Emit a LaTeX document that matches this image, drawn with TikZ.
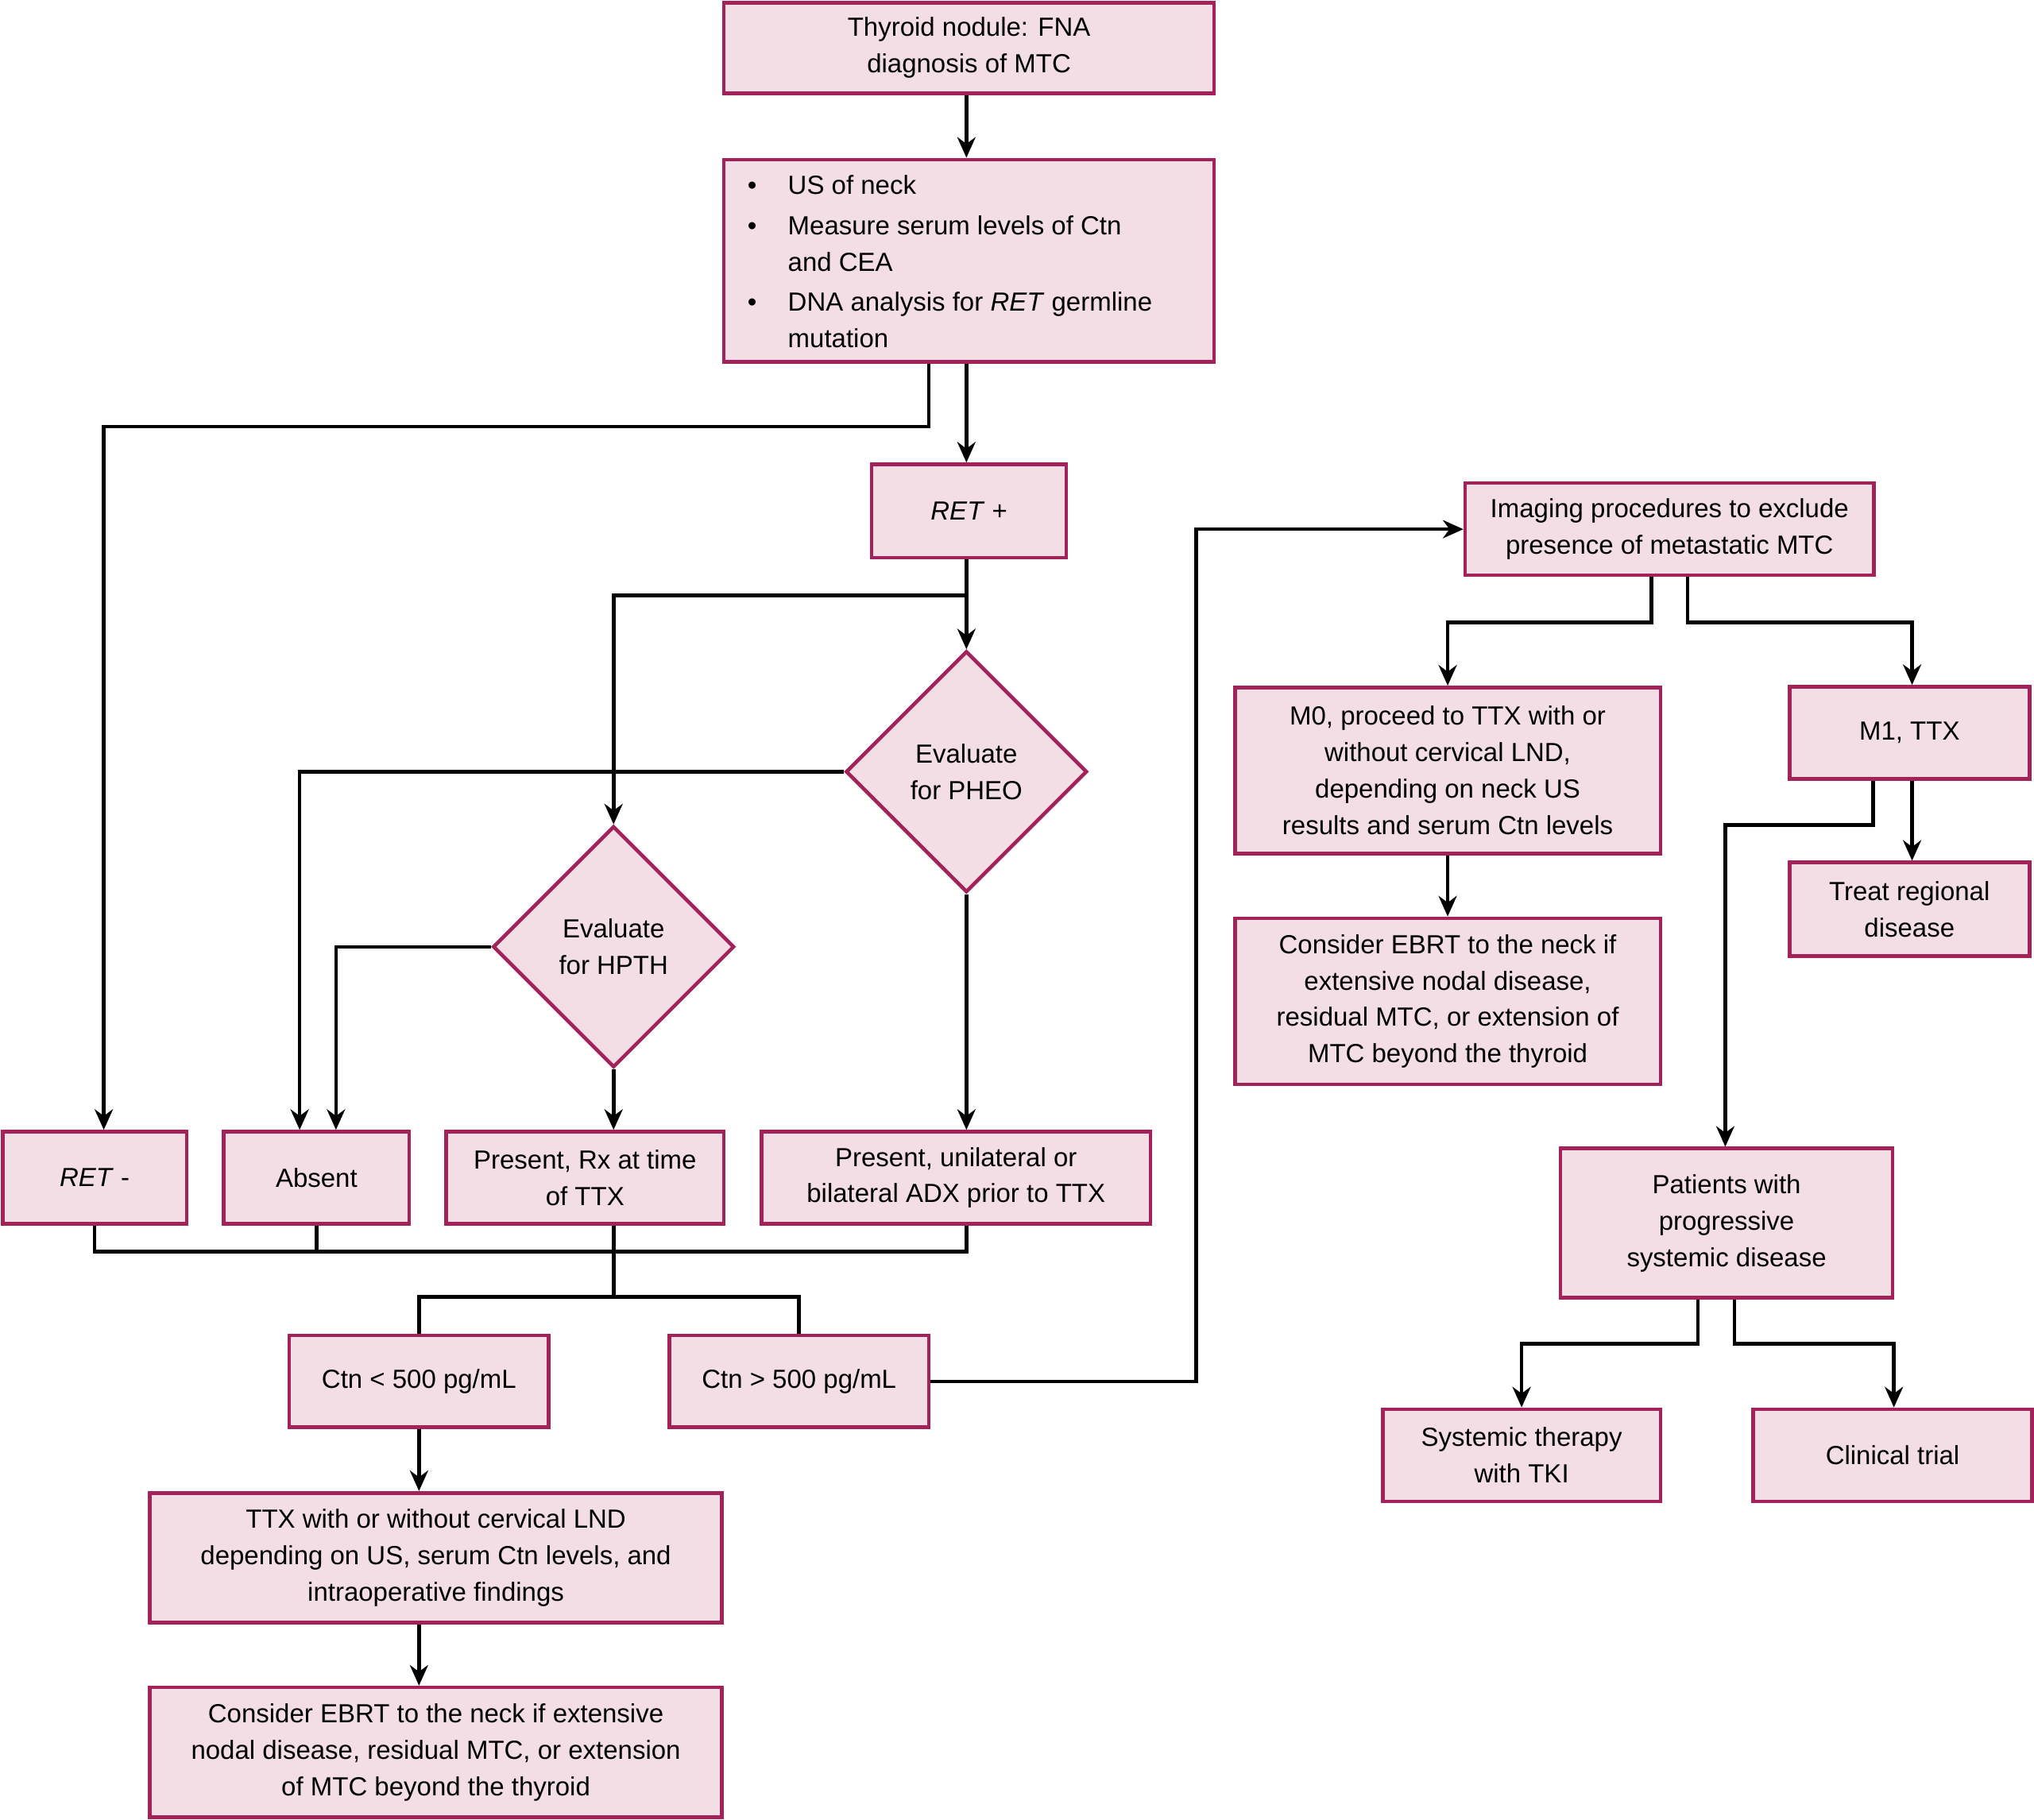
\documentclass[tikz,border=0pt]{standalone}
\usepackage{fontspec}
\setmainfont{Liberation Sans}
\usetikzlibrary{shapes.geometric,arrows.meta}
\definecolor{bfill}{HTML}{F2DEE4}
\definecolor{bdraw}{HTML}{A3225A}
\begin{document}
\begin{tikzpicture}[x=0.02cm,y=-0.02cm,
  bx/.style={draw=bdraw,fill=bfill,line width=1.6pt,align=center,inner sep=0pt,
    font=\fontsize{11.5}{16}\selectfont},
  dia/.style={diamond,draw=bdraw,fill=bfill,line width=1.6pt,align=center,inner sep=0pt,
    minimum width=186*0.02cm,minimum height=186*0.02cm,font=\fontsize{11.5}{16}\selectfont},
  ln/.style={line width=1.6pt},
  ar/.style={line width=1.6pt,-{Stealth[length=9pt,width=8pt]}}]
\useasboundingbox (0,0) rectangle (1568,1403);
\newcommand{\bxat}[5]{\node[bx,minimum width=#3*0.02cm,minimum height=#4*0.02cm] (#1) at #2 {#5};}
\bxat{top}{(747,37)}{378}{70}{Thyroid nodule: FNA\\diagnosis of MTC}
\bxat{bul}{(747,201)}{378}{156}{}
\node[anchor=north west,inner sep=0pt,font=\fontsize{11.5}{16}\selectfont] (bultxt) at (576,130) {%
\begin{tabular}{@{}l@{\hspace{0.48cm}}l@{}}
\textbullet & US of neck\\[1.5pt]
\textbullet & Measure serum levels of Ctn\\
 & and CEA\\[1.5pt]
\textbullet & DNA analysis for \textit{RET} germline\\
 & mutation
\end{tabular}};
\bxat{retp}{(747,394)}{150}{72}{\textit{RET} +}
\node[dia] (pheo) at (745,595) {Evaluate\\for PHEO};
\node[dia] (hpth) at (473,730) {Evaluate\\for HPTH};
\bxat{retm}{(73,908)}{142}{71}{\textit{RET} -}
\bxat{abs}{(244,908)}{143}{71}{Absent}
\bxat{prx}{(451,908)}{214}{71}{Present, Rx at time\\of TTX}
\bxat{puni}{(737,908)}{300}{71}{Present, unilateral or\\bilateral ADX prior to TTX}
\bxat{clo}{(323,1065)}{200}{71}{Ctn < 500 pg/mL}
\bxat{chi}{(616,1065)}{200}{71}{Ctn > 500 pg/mL}
\bxat{ttx}{(336,1201)}{441}{100}{TTX with or without cervical LND\\depending on US, serum Ctn levels, and\\intraoperative findings}
\bxat{ebl}{(336,1351)}{441}{100}{Consider EBRT to the neck if extensive\\nodal disease, residual MTC, or extension\\of MTC beyond the thyroid}
\bxat{img}{(1287,408)}{315}{71}{Imaging procedures to exclude\\presence of metastatic MTC}
\bxat{mz}{(1116,594)}{328}{128}{M0, proceed to TTX with or\\without cervical LND,\\depending on neck US\\results and serum Ctn levels}
\bxat{mo}{(1472,565)}{185}{71}{M1, TTX}
\bxat{trg}{(1472,701)}{185}{72}{Treat regional\\disease}
\bxat{ebr}{(1116,772)}{328}{128}{Consider EBRT to the neck if\\extensive nodal disease,\\residual MTC, or extension of\\MTC beyond the thyroid}
\bxat{pat}{(1331,943)}{256}{115}{Patients with\\progressive\\systemic disease}
\bxat{sys}{(1173,1122)}{214}{71}{Systemic therapy\\with TKI}
\bxat{clt}{(1459,1122)}{215}{71}{Clinical trial}
% connectors
\draw[ar] (top.south -| 745,0) -- (bul.north -| 745,0);
\draw[ar] (bul.south -| 716,0) -- (716,329) -- (80,329) -- (retm.north -| 80,0);
\draw[ar] (bul.south -| 745,0) -- (retp.north -| 745,0);
\draw[ar] (retp.south -| 745,0) -- (pheo.north);
\draw[ar] (745,459) -- (473,459) -- (hpth.north);
\draw[ar] (pheo.west) -- (231,595) -- (abs.north -| 231,0);
\draw[ar] (pheo.south) -- (puni.north -| 745,0);
\draw[ar] (hpth.west) -- (259,730) -- (abs.north -| 259,0);
\draw[ar] (hpth.south) -- (prx.north -| 473,0);
\draw[ln] (retm.south -| 73,0) -- (73,965) -- (745,965) -- (puni.south -| 745,0);
\draw[ln] (abs.south -| 244,0) -- (244,965);
\draw[ln] (prx.south -| 473,0) -- (473,1000);
\draw[ln] (clo.north) -- (323,1000) -- (616,1000) -- (chi.north);
\draw[ar] (clo.south) -- (ttx.north -| 323,0);
\draw[ar] (ttx.south -| 323,0) -- (ebl.north -| 323,0);
\draw[ar] (chi.east) -- (922,1065) -- (922,408) -- (img.west);
\draw[ar] (img.south -| 1273,0) -- (1273,480) -- (1116,480) -- (mz.north);
\draw[ar] (img.south -| 1301,0) -- (1301,480) -- (1474,480) -- (mo.north -| 1474,0);
\draw[ar] (mz.south) -- (ebr.north);
\draw[ar] (mo.south -| 1474,0) -- (trg.north -| 1474,0);
\draw[ar] (mo.south -| 1444,0) -- (1444,636) -- (1330,636) -- (pat.north -| 1330,0);
\draw[ar] (pat.south -| 1309,0) -- (1309,1036) -- (1173,1036) -- (sys.north -| 1173,0);
\draw[ar] (pat.south -| 1337,0) -- (1337,1036) -- (1460,1036) -- (clt.north -| 1460,0);
\end{tikzpicture}
\end{document}
